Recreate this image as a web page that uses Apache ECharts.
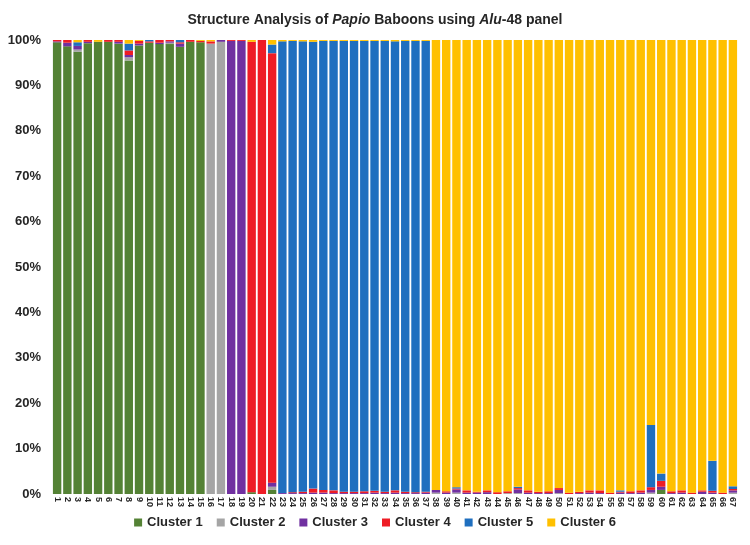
<!DOCTYPE html>
<html>
<head>
<meta charset="utf-8">
<script src="https://cdn.jsdelivr.net/npm/echarts@6/dist/echarts.min.js"></script>
<style>
html,body{margin:0;padding:0;background:#fff;}
#chart{width:750px;height:545px;}
</style>
</head>
<body>
<div id="chart"></div>
<script>
// Individuals 1..67
const categories = [];
for (let i = 1; i <= 67; i++) categories.push(String(i));

const seriesNames = ['Cluster 1', 'Cluster 2', 'Cluster 3', 'Cluster 4', 'Cluster 5', 'Cluster 6'];
const yTicks = [0, 10, 20, 30, 40, 50, 60, 70, 80, 90, 100];

const cluster1 = [
  99.5,98.6,97.4,99.3,99.6,99.6,99.2,95.5,98.8,99.4,
  99.1,99.1,98.5,99.6,99.5,0,0,0,0,0.4,
  0,0.9,0,0,0,0,0,0,0,0,
  0,0,0,0,0,0,0,0,0,0,
  0,0,0,0,0,0,0,0,0,0,
  0,0,0,0,0,0,0,0,0,0.9,
  0,0,0,0,0,0,0
];
const cluster2 = [
  0,0,0.5,0,0,0,0,0.7,0,0,
  0,0.3,0,0,0,99.2,99.6,0,0,0,
  0,0.7,0,0,0,0,0,0,0,0,
  0,0,0,0,0,0,0,0.3,0,0.3,
  0,0,0,0,0.2,0.2,0,0,0,0.2,
  0,0,0,0,0,0,0,0,0.3,0,
  0,0,0,0,0,0,0.3
];
const cluster3 = [
  0.2,0.8,0.8,0.3,0,0,0.4,0.5,0.4,0,
  0.3,0.3,0.7,0,0,0,0.4,99.8,99.8,0,
  0,0.9,0.2,0.2,0.2,0.3,0.3,0.2,0.2,0.2,
  0.2,0.3,0.2,0.3,0.2,0.2,0.3,0.6,0.3,0.7,
  0.3,0.3,0.4,0,0,0.8,0.3,0.2,0.2,0.7,
  0,0.2,0.3,0.2,0,0.3,0.2,0.3,0.6,0.7,
  0.2,0.3,0,0.5,0.3,0,0.5
];
const cluster4 = [
  0.3,0.6,0,0.4,0,0.4,0.4,1.0,0.6,0.3,
  0.6,0.3,0.3,0.4,0.3,0.5,0,0.2,0.2,99.2,
  100,94.6,0,0.2,0.3,0.9,0.6,0.6,0.3,0.3,
  0.4,0.4,0.3,0.5,0.3,0.2,0.2,0,0.3,0.2,
  0.5,0.2,0.4,0.4,0.4,0.3,0.5,0.3,0.4,0.4,
  0.3,0.3,0.5,0.6,0.3,0.2,0.4,0.5,0.6,1.3,
  0.4,0.5,0.3,0.3,0.4,0.3,0.3
];
const cluster5 = [
  0,0,0.8,0,0,0,0,1.5,0,0.3,
  0,0,0.5,0,0,0,0,0,0,0,
  0,1.9,99.5,99.4,99.2,98.4,98.9,99.0,99.3,99.3,
  99.2,99.1,99.3,98.9,99.3,99.4,99.3,0,0,0.3,
  0,0,0,0,0,0.3,0,0,0,0,
  0,0,0,0,0,0.3,0,0,13.7,1.6,
  0,0,0,0,6.6,0,0.6
];
const cluster6 = [
  0,0,0.5,0,0.4,0,0,0.8,0.2,0,
  0,0,0,0,0.2,0.3,0,0,0,0.4,
  0,1.0,0.3,0.2,0.3,0.4,0.2,0.2,0.2,0.2,
  0.2,0.2,0.2,0.3,0.2,0.2,0.2,99.1,99.4,98.5,
  99.2,99.5,99.2,99.6,99.4,98.4,99.2,99.5,99.4,98.7,
  99.7,99.5,99.2,99.2,99.7,99.2,99.4,99.2,84.8,95.5,
  99.4,99.2,99.7,99.2,92.7,99.7,98.3
];

const colors = ['#548235', '#A5A5A5', '#7030A0', '#EE1C25', '#1F6FBF', '#FFC000'];
const allData = [cluster1, cluster2, cluster3, cluster4, cluster5, cluster6];

const chart = echarts.init(document.getElementById('chart'), null, {renderer: 'canvas'});
const FONT = 'Liberation Sans, Arial, sans-serif';

const option = {
  animation: false,
  backgroundColor: '#ffffff',
  color: colors,
  title: {
    text: '{b|Structure Analysis of }{i|Papio}{b| Baboons using }{i|Alu}{b|-48 panel}',
    left: 'center',
    top: 8,
    textStyle: {
      rich: {
        b: {fontFamily: FONT, fontSize: 14, fontWeight: 'bold', color: '#262626'},
        i: {fontFamily: FONT, fontSize: 14, fontWeight: 'bold', fontStyle: 'italic', color: '#262626'}
      }
    }
  },
  legend: {
    bottom: 11,
    left: 'center',
    itemWidth: 8,
    itemHeight: 8,
    itemGap: 14,
    icon: 'rect',
    textStyle: {fontFamily: FONT, fontSize: 13, fontWeight: 'bold', color: '#262626'},
    data: seriesNames
  },
  grid: {left: 52, right: 12, top: 40, bottom: 51, containLabel: false},
  xAxis: {
    type: 'category',
    data: categories,
    axisLine: {show: false},
    axisTick: {show: false},
    axisLabel: {
      interval: 0,
      rotate: -90,
      fontFamily: FONT,
      fontSize: 9,
      fontWeight: 'bold',
      color: '#262626',
      margin: 3
    }
  },
  yAxis: {
    type: 'value',
    min: 0,
    max: 100,
    interval: 10,
    splitLine: {show: false},
    axisLine: {show: false},
    axisTick: {show: false},
    axisLabel: {
      fontFamily: FONT,
      fontSize: 13,
      fontWeight: 'bold',
      color: '#262626',
      margin: 11,
      formatter: function (v) { return yTicks.indexOf(v) >= 0 ? v + '%' : ''; }
    }
  },
  series: seriesNames.map(function (name, idx) {
    return {
      name: name,
      type: 'bar',
      stack: 'total',
      barCategoryGap: '18%',
      data: allData[idx],
      itemStyle: {color: colors[idx]}
    };
  })
};
chart.setOption(option);
</script>
</body>
</html>
